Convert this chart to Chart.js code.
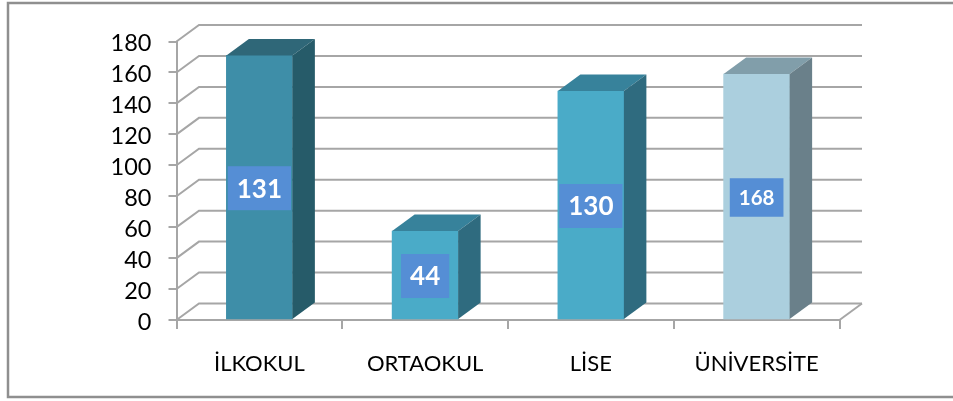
<!DOCTYPE html>
<html>
<head>
<meta charset="utf-8">
<script src="https://cdn.jsdelivr.net/npm/chart.js@4/dist/chart.umd.min.js"></script>
<style>
    html, body { margin: 0; padding: 0; background: #fff; }
    canvas { display: block; }
</style>
</head>
<body>
<canvas id="chart" width="953" height="401"></canvas>
<script>
const categories = ['İLKOKUL', 'ORTAOKUL', 'LİSE', 'ÜNİVERSİTE'];
// bar heights as drawn against the axis; the printed labels differ in the original
const barValues = [171, 57.5, 148, 159];
const dataLabels = ['131', '44', '130', '168'];
const labelSizes = [26, 26, 26, 20.5];
const yTicks = [0, 20, 40, 60, 80, 100, 120, 140, 160, 180];

const frontColors = ['#3e8ea8', '#4aabc8', '#4aabc8', '#abcfde'];
const sideColors = ['#265b69', '#2f6b7f', '#2f6b7f', '#6a808a'];
const topColors = ['#2f6778', '#37829b', '#37829b', '#819eaa'];

const gridColor = '#a6a6a6';
const depthX = 22.5;
const depthY = -16.5;

function line(ctx, points) {
    ctx.beginPath();
    points.forEach((p, i) => i ? ctx.lineTo(p[0], p[1]) : ctx.moveTo(p[0], p[1]));
    ctx.stroke();
}

function poly(ctx, points, color) {
    ctx.fillStyle = color;
    ctx.beginPath();
    points.forEach((p, i) => i ? ctx.lineTo(p[0], p[1]) : ctx.moveTo(p[0], p[1]));
    ctx.closePath();
    ctx.fill();
}

// outer frame, the right side is cut off in the original
const framePlugin = {
    id: 'frame',
    beforeDraw(chart) {
        const ctx = chart.ctx;
        ctx.save();
        ctx.strokeStyle = '#8f8f8f';
        ctx.lineWidth = 2.5;
        line(ctx, [[953, 3], [8, 3], [8, 397], [953, 397]]);
        ctx.restore();
    }
};

// back wall and floor of the 3D box
const wallPlugin = {
    id: 'wall',
    beforeDatasetsDraw(chart) {
        const ctx = chart.ctx;
        const { left, right, bottom } = chart.chartArea;
        ctx.save();
        ctx.strokeStyle = gridColor;
        ctx.lineWidth = 2;
        yTicks.forEach(v => {
            const y = chart.scales.y.getPixelForValue(v);
            line(ctx, [[left, y], [left + depthX, y + depthY], [right + depthX, y + depthY]]);
        });
        line(ctx, [[right, bottom], [right + depthX, bottom + depthY]]);
        ctx.restore();
    }
};

// top and side faces of every bar, taken from the bar elements
const bar3dPlugin = {
    id: 'bar3d',
    afterDatasetsDraw(chart) {
        const ctx = chart.ctx;
        chart.getDatasetMeta(0).data.forEach((bar, i) => {
            const x0 = bar.x - bar.width / 2;
            const x1 = bar.x + bar.width / 2;
            poly(ctx, [[x0, bar.y], [x1, bar.y], [x1 + depthX, bar.y + depthY], [x0 + depthX, bar.y + depthY]], topColors[i]);
            poly(ctx, [[x1, bar.y], [x1 + depthX, bar.y + depthY], [x1 + depthX, bar.base + depthY], [x1, bar.base]], sideColors[i]);
        });
    }
};

const labelPlugin = {
    id: 'boxLabels',
    afterDraw(chart) {
        const ctx = chart.ctx;
        chart.getDatasetMeta(0).data.forEach((bar, i) => {
            const size = labelSizes[i];
            const cy = (bar.y + bar.base) / 2 + 1;
            ctx.save();
            ctx.font = 'bold ' + size + 'px Lato, "Open Sans", sans-serif';
            ctx.textAlign = 'center';
            ctx.textBaseline = 'middle';
            const w = ctx.measureText(dataLabels[i]).width + 18;
            const h = size + 18;
            ctx.fillStyle = '#558ed5';
            ctx.fillRect(bar.x - w / 2, cy - h / 2, w, h);
            ctx.fillStyle = '#fff';
            ctx.fillText(dataLabels[i], bar.x, cy + 1);
            ctx.restore();
        });
    }
};

new Chart(document.getElementById('chart'), {
    type: 'bar',
    data: {
        labels: categories,
        datasets: [{
            data: barValues,
            backgroundColor: frontColors,
            borderWidth: 0,
            barThickness: 66
        }]
    },
    options: {
        responsive: false,
        animation: false,
        layout: { padding: { top: 41.5, right: 113.5, bottom: 0, left: 0 } },
        plugins: { legend: { display: false }, tooltip: { enabled: false } },
        scales: {
            x: {
                afterFit(scale) { scale.height = 81; },
                grid: { drawOnChartArea: false, color: gridColor, lineWidth: 2, tickLength: 9 },
                border: { color: gridColor, width: 2 },
                ticks: { color: '#000', font: { family: 'Lato', size: 22 }, padding: 22, maxRotation: 0 }
            },
            y: {
                min: 0,
                max: 180,
                afterFit(scale) { scale.width = 176.5; },
                grid: { drawOnChartArea: false, color: gridColor, lineWidth: 2, tickLength: 8 },
                border: { color: gridColor, width: 2 },
                ticks: { color: '#000', font: { family: 'Lato', size: 23.5 }, padding: 17, stepSize: 20, labelOffset: 2, autoSkip: false }
            }
        }
    },
    plugins: [framePlugin, wallPlugin, bar3dPlugin, labelPlugin]
});
</script>
</body>
</html>
